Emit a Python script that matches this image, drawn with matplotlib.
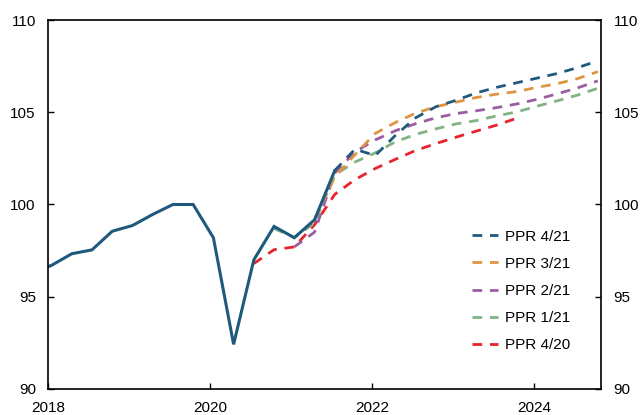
import matplotlib
matplotlib.use("Agg")
import matplotlib.pyplot as plt

plt.rcParams["font.family"] = ["Liberation Sans", "DejaVu Sans"]
plt.rcParams["font.size"] = 11

# Quarterly data; each quarter is plotted at mid first month
def quarters(start, n):
	y, q = int(start[:4]), int(start[-1])
	out = []
	for _ in range(n):
		out.append(y + (q - 1) / 4 + 0.04)
		q += 1
		if q > 4:
			q, y = 1, y + 1
	return out

hist_start = "2017Q4"
hist = [96.3, 96.7, 97.33, 97.54, 98.55, 98.86, 99.46, 100.0, 100.0, 98.2,
	92.42, 97.0, 98.81, 98.2, 99.17, 101.84]

ppr421_start = "2021Q3"
ppr421 = [101.84, 103.0, 102.65, 103.75, 104.7, 105.3, 105.65, 106.05, 106.35,
	106.6, 106.85, 107.1, 107.42, 107.78]

ppr321_start = "2021Q2"
ppr321 = [99.2, 101.5, 102.7, 103.85, 104.45, 104.95, 105.3, 105.55, 105.8,
	105.98, 106.12, 106.35, 106.55, 106.82, 107.2]

ppr221_start = "2021Q1"
ppr221 = [97.7, 98.5, 101.7, 102.85, 103.5, 104.0, 104.38, 104.7, 104.93,
	105.08, 105.25, 105.45, 105.7, 106.0, 106.32, 106.7]

ppr121_start = "2020Q4"
ppr121 = [98.7, 98.2, 99.0, 101.6, 102.3, 102.8, 103.4, 103.8, 104.1, 104.37,
	104.55, 104.8, 105.02, 105.33, 105.62, 105.93, 106.3]

ppr420_start = "2020Q3"
ppr420 = [96.8, 97.55, 97.7, 98.9, 100.55, 101.35, 101.95, 102.45, 102.93,
	103.3, 103.65, 103.98, 104.3, 104.68]

series = [
	("PPR 4/21", ppr421_start, ppr421, "#1f5a7d"),
	("PPR 3/21", ppr321_start, ppr321, "#df9443"),
	("PPR 2/21", ppr221_start, ppr221, "#9c5ca3"),
	("PPR 1/21", ppr121_start, ppr121, "#82b384"),
	("PPR 4/20", ppr420_start, ppr420, "#e8232d"),
]

fig = plt.figure(figsize=(6.43, 4.15), dpi=100)
ax = fig.add_axes([0.0751, 0.0627, 0.8596, 0.8891])

handles = {}
for label, start, vals, color in reversed(series):
	h, = ax.plot(quarters(start, len(vals)), vals, color=color, lw=2.0,
		dashes=(3.5, 2.8), label=label)
	handles[label] = h

ax.plot(quarters(hist_start, len(hist)), hist, color="#1f5a7d", lw=2.2,
	solid_joinstyle="miter")

ax.set_xlim(2018, 2024.83)
ax.set_ylim(90, 110)
ax.set_xticks([2018, 2020, 2022, 2024])
ax.set_xticklabels(["2018", "2020", "2022", "2024"])
ax.set_yticks([90, 95, 100, 105, 110])
ax.tick_params(axis="both", direction="in", length=4, width=1, labelsize=11)
ax.tick_params(axis="y", left=True, right=True, labelleft=True, labelright=True, pad=9)
ax.tick_params(axis="x", pad=8.5)
for s in ax.spines.values():
	s.set_linewidth(1.2)

ax.legend([handles[s[0]] for s in series], [s[0] for s in series],
	loc="upper left", bbox_to_anchor=(0.766, 0.432), frameon=False,
	handlelength=1.75, handletextpad=0.4, labelspacing=0.86, borderpad=0,
	borderaxespad=0, fontsize=11)

fig.savefig("out.png", dpi=100)
